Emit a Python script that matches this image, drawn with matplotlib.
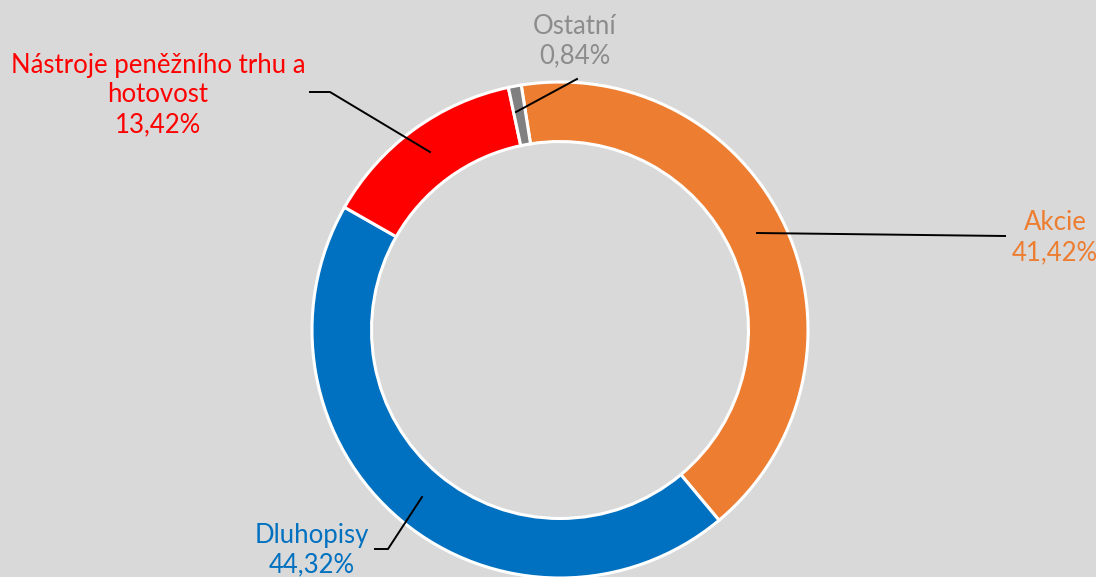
import matplotlib.pyplot as plt

# podíly složek portfolia (%)
nazvy = ["Akcie", "Dluhopisy", "Nástroje peněžního trhu a\nhotovost", "Ostatní"]
podily = [41.42, 44.32, 13.42, 0.84]
barvy = ["#ED7D31", "#0070C0", "#FF0000", "#808080"]
barvy_textu = ["#ED7D31", "#0070C0", "#FF0000", "#8C8C8C"]

plt.rcParams['font.family'] = ['Lato', 'DejaVu Sans']

W, H = 1096, 577
fig = plt.figure(figsize=(W / 100, H / 100), dpi=100)
fig.patch.set_facecolor("#D9D9D9")
ax = fig.add_axes([0, 0, 1, 1])
ax.set_facecolor("#D9D9D9")

# souřadnice v pixelech, y počítané shora
def py(y):
    return H - y

r = 248
ax.pie(podily, colors=barvy, startangle=99, counterclock=False,
       center=(560, py(330)), radius=r, frame=True,
       wedgeprops=dict(width=r * 0.24, edgecolor="white", linewidth=2.2))
ax.set_xlim(0, W)
ax.set_ylim(0, H)
ax.axis("off")

# popisky a vodicí čáry
pozice = [(1055, 238), (312, 550), (158, 95), (575, 41)]
cary = [
    [(757, 233), (1005, 236)],
    [(422, 497), (388, 549), (375, 549)],
    [(430, 152), (330, 92), (310, 92)],
    [(516, 112), (577, 79)],
]
for nazev, (x, y), pct, c, cara in zip(nazvy, pozice, podily, barvy_textu, cary):
    ax.text(x, py(y), f"{nazev}\n{pct:.2f}%".replace(".", ","), color=c,
            fontsize=18.5, ha="center", va="center", linespacing=1.25)
    xs, ys = zip(*cara)
    ax.plot(xs, [py(v) for v in ys], color="black", lw=1.4)

fig.savefig("out.png", dpi=100, facecolor=fig.get_facecolor())
